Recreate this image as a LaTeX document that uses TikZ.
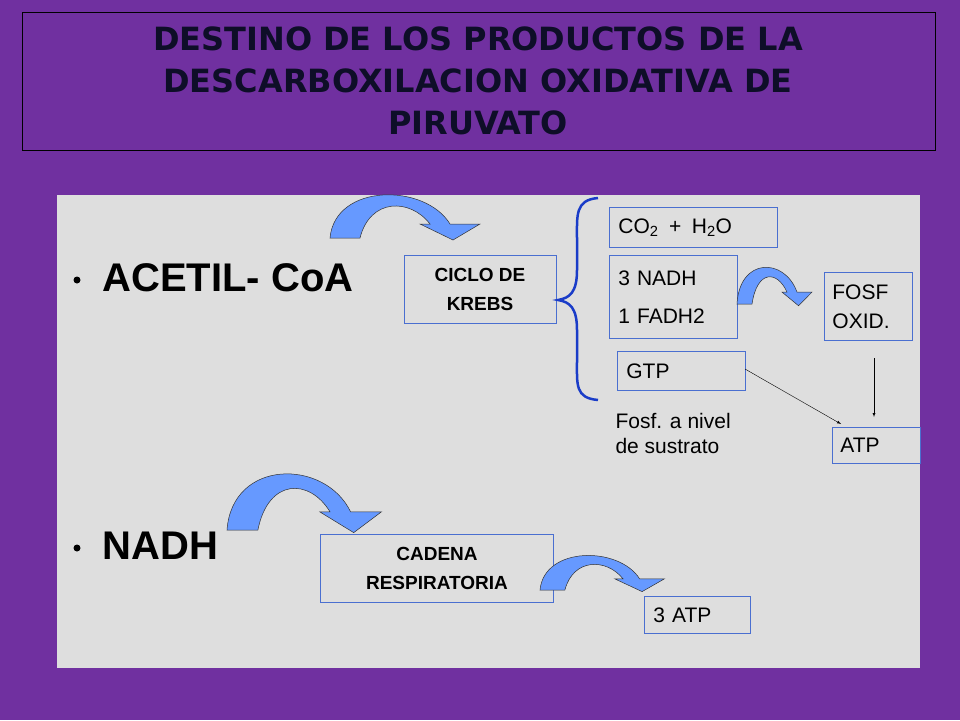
\documentclass[tikz,border=0pt]{standalone}
\usepackage{fontspec}
\setmainfont{Liberation Sans}
\newfontfamily\titlefont{DejaVu Sans}
\definecolor{slidepurple}{HTML}{7030A0}
\definecolor{panelgrey}{HTML}{DEDEDE}
\definecolor{boxblue}{HTML}{4A6FD0}
\definecolor{braceblue}{HTML}{1A3CC8}
\definecolor{arrowblue}{HTML}{6699FF}
\definecolor{titleink}{HTML}{0E0E28}
\tikzstyle{panel}=[draw=boxblue, fill=panelgrey, line width=0.8pt, inner sep=6pt, font=\fontsize{21}{25}\selectfont]
\tikzstyle{boldpanel}=[panel, font=\bfseries\fontsize{19}{29}\selectfont, align=center]
\tikzstyle{bigword}=[anchor=west, font=\bfseries\fontsize{40}{46}\selectfont]
\tikzstyle{thin}=[draw=black, -latex]
\newcommand{\bentarrow}[3]{%
  \filldraw[fill=arrowblue, draw=black!80, line width=0.5pt, shift={#1}, xscale=#2, yscale=#3]
    (0,0) .. controls (5,-55) and (95,-55) .. (120,-14) -- (150,-14) -- (123,2)
    -- (90,-14) -- (100,-14) .. controls (80,-40) and (40,-40) .. (30,0) -- cycle;}
\begin{document}
\begin{tikzpicture}[x=1pt, y=-1pt]
  \useasboundingbox (0,0) rectangle (960,720);
  \fill[slidepurple] (0,0) rectangle (960,720);
  % title
  \draw[fill=slidepurple, draw=black] (22,12) rectangle (935,150);
  \node (title) at (478,81) [align=center, text=titleink,
        font=\titlefont\bfseries\fontsize{32}{42}\selectfont]
        {DESTINO DE LOS PRODUCTOS DE LA\\DESCARBOXILACION OXIDATIVA DE\\PIRUVATO};
  \fill[panelgrey] (57,195) rectangle (920,668);

  % bullets
  \fill (77,280) circle (3.5pt);
  \node (acetil) at (99,278) [bigword] {ACETIL- CoA};
  \fill (77,548) circle (3.5pt);
  \node (nadh) at (99,546) [bigword] {NADH};

  % boxes
  \node (krebs) [boldpanel, minimum width=152pt, minimum height=68pt] at (480,289) {CICLO DE\\KREBS};
  \node (cadena) [boldpanel, minimum width=233pt, minimum height=68pt] at (437,568) {CADENA\\RESPIRATORIA};
  \node (co2) [panel, anchor=north west, minimum width=168pt, minimum height=40pt, text width=150pt] at (609,207)
        {CO\textsubscript{2} \,+\, H\textsubscript{2}O};
  \node (nadh3) [panel, anchor=north west, minimum width=128pt, minimum height=83pt, text width=110pt,
        font=\fontsize{21}{38}\selectfont] at (609,255) {3 NADH\\1 FADH2};
  \node (fosf) [panel, anchor=north west, minimum width=88pt, minimum height=68pt, text width=72pt,
        font=\fontsize{21}{29}\selectfont] at (824,272) {FOSF\\OXID.};
  \node (gtp) [panel, anchor=north west, minimum width=128pt, minimum height=39pt, text width=110pt] at (617,351) {GTP};
  \node (atp) [panel, anchor=north west, minimum width=88pt, minimum height=36pt, text width=72pt] at (832,427) {ATP};
  \node (atp3) [panel, anchor=north west, minimum width=106pt, minimum height=37pt, text width=88pt] at (644,596) {3 ATP};
  \node (sustrato) at (612,433) [anchor=west, align=left, font=\fontsize{21}{25}\selectfont]
        {Fosf. a nivel\\de sustrato};

  % brace
  \draw[braceblue, line width=2.5pt] (598,198) .. controls (575,200) and (577,215) .. (577,240)
        -- (577,270) .. controls (577,292) and (570,298) .. (558,300)
        .. controls (570,302) and (577,308) .. (577,330)
        -- (577,360) .. controls (577,385) and (575,398) .. (598,400);

  % connections
  \coordinate (gtpout) at (745,369);
  \coordinate (atpin) at (841,424);
  \draw[thin] (gtpout) -- (atpin);
  \coordinate (fosfout) at (874,358);
  \coordinate (atptop) at (874,417);
  \draw[thin] (fosfout) -- (atptop);

  % bent arrows
  \bentarrow{(330,238)}{1}{1}
  \bentarrow{(227,530)}{1.03}{1.3}
  \bentarrow{(540,590)}{0.83}{0.8}
  \bentarrow{(737,304)}{0.5}{0.85}
\end{tikzpicture}
\end{document}
